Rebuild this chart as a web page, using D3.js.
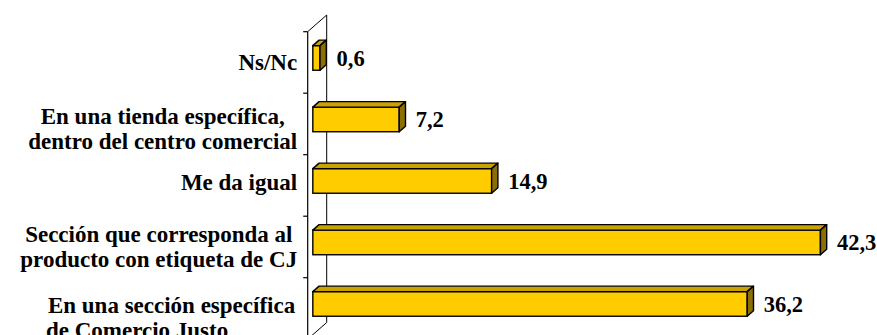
<!DOCTYPE html>
<html>
<head>
<meta charset="utf-8">
<script src="https://cdn.jsdelivr.net/npm/d3@7"></script>
<style>
  html, body { margin: 0; padding: 0; background: #ffffff; }
  svg { display: block; }
</style>
</head>
<body>
<svg id="chart" width="877" height="335"></svg>
<script>
// Categories, top to bottom (each entry is the list of label lines)
const categories = [
  ["Ns/Nc"],
  ["En una tienda específica,", "dentro del centro comercial"],
  ["Me da igual"],
  ["Sección que corresponda al", "producto con etiqueta de CJ"],
  ["En una sección específica", "de Comercio Justo\u00a0\u00a0\u00a0\u00a0\u00a0\u00a0\u00a0\u00a0\u00a0\u00a0\u00a0\u00a0"]
];
// Percentages
const values = [0.6, 7.2, 14.9, 42.3, 36.2];
const valueLabels = ["0,6", "7,2", "14,9", "42,3", "36,2"];

const FONT = "'Liberation Serif'";
const svg = d3.select("#chart");

// Plot frame (front plane)
const plotLeft = 307.7, plotTop = 31.7, plotBottom = 339.2;
const wallDX = 19, wallDY = -16.7;         // depth of the back wall
const frontT = 0.27, backT = 0.6;           // bar depth within the wall

const keys = categories.map((c, i) => i);
const x = d3.scaleLinear().domain([0, 45]).range([plotLeft, plotLeft + 540]);
const y = d3.scaleBand().domain(keys).range([plotTop, plotBottom])
  .paddingInner(0.6).paddingOuter(0.3);
const step = y.step();

const fdx = wallDX * frontT, fdy = wallDY * frontT;
const bdx = wallDX * (backT - frontT), bdy = wallDY * (backT - frontT);

// Back wall and floor edges
const frame = svg.append("g");
frame.append("line")
  .attr("x1", plotLeft + wallDX).attr("y1", plotTop + wallDY)
  .attr("x2", plotLeft + wallDX).attr("y2", plotBottom + wallDY)
  .attr("stroke", "#000").attr("stroke-width", 1);
frame.append("line")
  .attr("x1", plotLeft).attr("y1", plotTop)
  .attr("x2", plotLeft + wallDX).attr("y2", plotTop + wallDY)
  .attr("stroke", "#000").attr("stroke-width", 1);
frame.append("line")
  .attr("x1", plotLeft).attr("y1", plotBottom)
  .attr("x2", plotLeft + wallDX).attr("y2", plotBottom + wallDY)
  .attr("stroke", "#000").attr("stroke-width", 1);

// Front axis with tick marks at category boundaries
frame.append("line")
  .attr("x1", plotLeft).attr("y1", plotTop)
  .attr("x2", plotLeft).attr("y2", plotBottom)
  .attr("stroke", "#000").attr("stroke-width", 1.2);
d3.range(keys.length + 1).forEach(i => {
  const ty = plotTop + i * step;
  frame.append("line")
    .attr("x1", plotLeft - 4.5).attr("y1", ty)
    .attr("x2", plotLeft).attr("y2", ty)
    .attr("stroke", "#000").attr("stroke-width", 1.2);
});

// 3D bars
const bars = svg.append("g").selectAll("g").data(values).join("g");
bars.each(function (v, i) {
  const sel = d3.select(this);
  const x0 = x(0) + fdx, x1 = x(v) + fdx;
  const y0 = y(i) + fdy, h = y.bandwidth();
  const pts = a => a.map(p => p.join(",")).join(" ");
  sel.append("rect")
    .attr("x", x0).attr("y", y0).attr("width", x1 - x0).attr("height", h)
    .attr("fill", "#FFCC00").attr("stroke", "#000").attr("stroke-width", 1.4);
  sel.append("polygon")
    .attr("points", pts([[x0, y0], [x1, y0], [x1 + bdx, y0 + bdy], [x0 + bdx, y0 + bdy]]))
    .attr("fill", "#C9A200").attr("stroke", "#000").attr("stroke-width", 1.4)
    .attr("stroke-linejoin", "round");
  sel.append("polygon")
    .attr("points", pts([[x1, y0], [x1 + bdx, y0 + bdy], [x1 + bdx, y0 + bdy + h], [x1, y0 + h]]))
    .attr("fill", "#8C6F00").attr("stroke", "#000").attr("stroke-width", 1.4)
    .attr("stroke-linejoin", "round");
  // value label
  sel.append("text")
    .attr("x", x1 + 16.5)
    .attr("y", y0 + h / 2 + 7.6)
    .style("font-family", FONT)
    .style("font-weight", "bold")
    .style("font-size", "22.5px")
    .attr("fill", "#000")
    .text(valueLabels[i]);
});

// Category labels: lines centred within a block right-aligned to the axis;
// small vertical nudges follow the original label placement
const fs = 23, lh = 25, labelRight = plotLeft - 10.5;
const labelNudge = [0, 5, -3, 0, 9];
categories.forEach((lines, i) => {
  const cy = y(i) + y.bandwidth() / 2 + labelNudge[i];
  const t = svg.append("text")
    .style("font-family", FONT)
    .style("font-weight", "bold")
    .style("font-size", fs + "px")
    .style("white-space", "pre")
    .attr("fill", "#000")
    .attr("text-anchor", "middle");
  const spans = lines.map(ln => t.append("tspan").text(ln));
  const widths = spans.map(s => s.node().getComputedTextLength());
  const bw = d3.max(widths);
  const cx = labelRight - bw / 2;
  const firstBase = cy - (lines.length - 1) * lh / 2 + 7.8;
  spans.forEach((s, k) => s.attr("x", cx).attr("y", firstBase + k * lh));
});
</script>
</body>
</html>
